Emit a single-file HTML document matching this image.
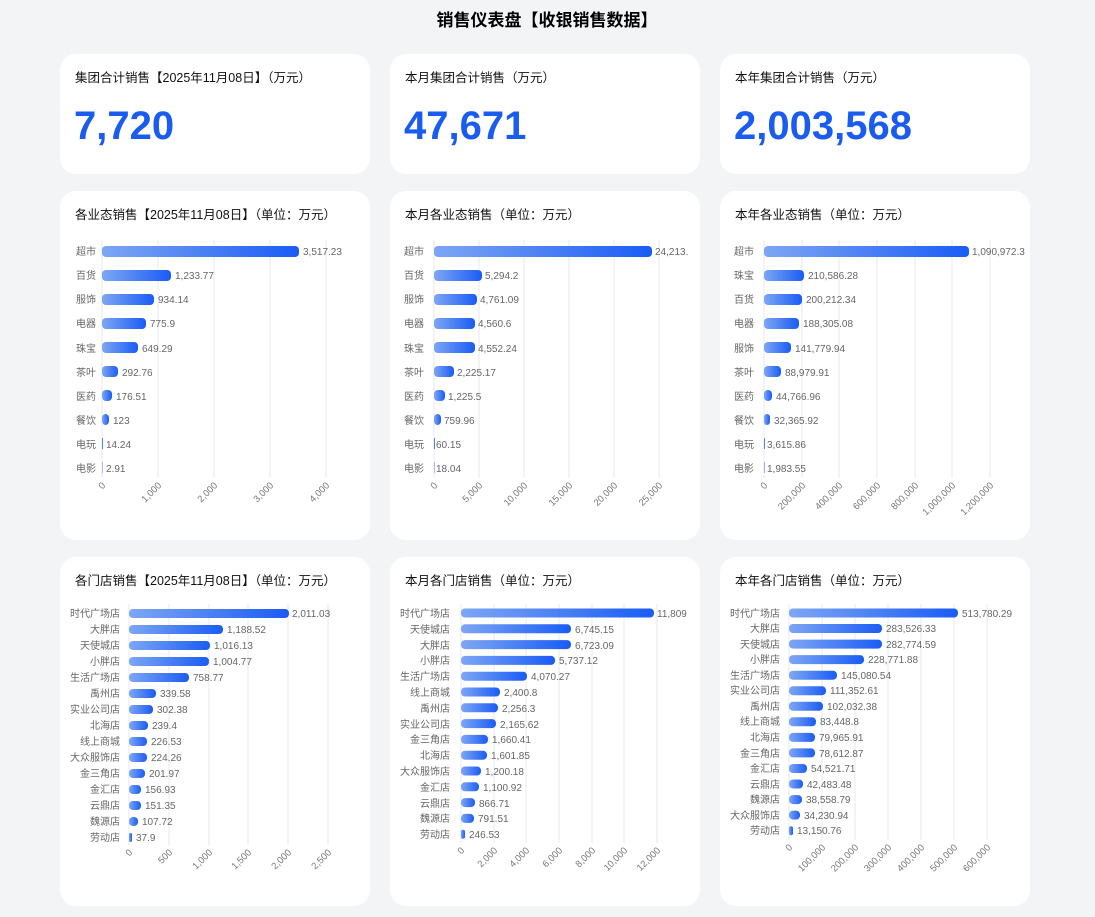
<!DOCTYPE html><html><head><meta charset="utf-8"><style>
body{margin:0;width:1095px;height:917px;background:#f3f4f6;font-family:"Liberation Sans","Noto Sans CJK SC",sans-serif;overflow:hidden;position:relative}
.c{position:absolute;background:#fff;border-radius:16px;width:310px}
svg{position:absolute;left:0;top:0}
.t{font-size:12.5px;fill:#111}.l{font-size:10px;fill:#666}.v{font-size:10px;fill:#666}.k{font-size:9.5px;fill:#777}
.n{font-size:40px;font-weight:bold;fill:#1a5cf0}
.g{stroke:#e8eaf0;stroke-width:1}
</style></head><body>
<div class="c" style="left:60px;top:54px;height:120px"></div><div class="c" style="left:390px;top:54px;height:120px"></div><div class="c" style="left:720px;top:54px;height:120px"></div>
<div class="c" style="left:60px;top:191px;height:349px"></div><div class="c" style="left:390px;top:191px;height:349px"></div><div class="c" style="left:720px;top:191px;height:349px"></div>
<div class="c" style="left:60px;top:557px;height:349px"></div><div class="c" style="left:390px;top:557px;height:349px"></div><div class="c" style="left:720px;top:557px;height:349px"></div>
<svg width="1095" height="917">
<defs><linearGradient id="b" x1="0" x2="1" y1="0" y2="0"><stop offset="0" stop-color="#7da6f4"/><stop offset="1" stop-color="#1a5cf5"/></linearGradient></defs>
<text x="547" y="26" text-anchor="middle" style="font-size:17px;font-weight:bold">销售仪表盘【收银销售数据】</text>
<text class="t" x="75" y="82">集团合计销售【2025年11月08日】（万元）</text><text class="n" x="74" y="139">7,720</text>
<text class="t" x="405" y="82">本月集团合计销售（万元）</text><text class="n" x="404" y="139">47,671</text>
<text class="t" x="735" y="82">本年集团合计销售（万元）</text><text class="n" x="734" y="139">2,003,568</text>
<text class="t" x="75" y="219">各业态销售【2025年11月08日】（单位：万元）</text>
<text class="t" x="405" y="219">本月各业态销售（单位：万元）</text>
<text class="t" x="735" y="219">本年各业态销售（单位：万元）</text>
<text class="t" x="75" y="585">各门店销售【2025年11月08日】（单位：万元）</text>
<text class="t" x="405" y="585">本月各门店销售（单位：万元）</text>
<text class="t" x="735" y="585">本年各门店销售（单位：万元）</text>
<!-- chart1 -->
<g class="g"><line x1="102" y1="240" x2="102" y2="478"/><line x1="158" y1="240" x2="158" y2="478"/><line x1="214" y1="240" x2="214" y2="478"/><line x1="270" y1="240" x2="270" y2="478"/><line x1="326" y1="240" x2="326" y2="478"/></g>
<g fill="url(#b)"><rect x="102" y="246" width="197" height="11" rx="4"/><rect x="102" y="270" width="69" height="11" rx="4"/><rect x="102" y="294" width="52" height="11" rx="4"/><rect x="102" y="318" width="44" height="11" rx="4"/><rect x="102" y="342" width="36" height="11" rx="4"/><rect x="102" y="366" width="16" height="11" rx="4"/><rect x="102" y="390" width="10" height="11" rx="4"/><rect x="102" y="414" width="7" height="11" rx="4"/><rect x="102" y="438" width="1" height="11"/><rect x="102" y="462" width="0.5" height="11"/></g>
<g class="l" text-anchor="end"><text x="96" y="255">超市</text><text x="96" y="279">百货</text><text x="96" y="303">服饰</text><text x="96" y="327">电器</text><text x="96" y="352">珠宝</text><text x="96" y="376">茶叶</text><text x="96" y="400">医药</text><text x="96" y="424">餐饮</text><text x="96" y="448">电玩</text><text x="96" y="472">电影</text></g>
<g class="v"><text x="303" y="255">3,517.23</text><text x="175" y="279">1,233.77</text><text x="158" y="303">934.14</text><text x="150" y="327">775.9</text><text x="142" y="352">649.29</text><text x="122" y="376">292.76</text><text x="116" y="400">176.51</text><text x="113" y="424">123</text><text x="106" y="448">14.24</text><text x="106" y="472">2.91</text></g>
<g class="k" text-anchor="end"><text x="106" y="486" transform="rotate(-45 106 486)">0</text><text x="162" y="486" transform="rotate(-45 162 486)">1,000</text><text x="218" y="486" transform="rotate(-45 218 486)">2,000</text><text x="274" y="486" transform="rotate(-45 274 486)">3,000</text><text x="330" y="486" transform="rotate(-45 330 486)">4,000</text></g>
<!-- chart2 -->
<g class="g"><line x1="434" y1="240" x2="434" y2="478"/><line x1="479" y1="240" x2="479" y2="478"/><line x1="524" y1="240" x2="524" y2="478"/><line x1="569" y1="240" x2="569" y2="478"/><line x1="614" y1="240" x2="614" y2="478"/><line x1="659" y1="240" x2="659" y2="478"/></g>
<g fill="url(#b)"><rect x="434" y="246" width="218" height="11" rx="4"/><rect x="434" y="270" width="48" height="11" rx="4"/><rect x="434" y="294" width="43" height="11" rx="4"/><rect x="434" y="318" width="41" height="11" rx="4"/><rect x="434" y="342" width="41" height="11" rx="4"/><rect x="434" y="366" width="20" height="11" rx="4"/><rect x="434" y="390" width="11" height="11" rx="4"/><rect x="434" y="414" width="7" height="11" rx="4"/><rect x="434" y="438" width="1" height="11"/><rect x="434" y="462" width="0.5" height="11"/></g>
<g class="l" text-anchor="end"><text x="424" y="255">超市</text><text x="424" y="279">百货</text><text x="424" y="303">服饰</text><text x="424" y="327">电器</text><text x="424" y="352">珠宝</text><text x="424" y="376">茶叶</text><text x="424" y="400">医药</text><text x="424" y="424">餐饮</text><text x="424" y="448">电玩</text><text x="424" y="472">电影</text></g>
<g class="v"><text x="655" y="255">24,213.</text><text x="485" y="279">5,294.2</text><text x="480" y="303">4,761.09</text><text x="478" y="327">4,560.6</text><text x="478" y="352">4,552.24</text><text x="457" y="376">2,225.17</text><text x="448" y="400">1,225.5</text><text x="444" y="424">759.96</text><text x="436" y="448">60.15</text><text x="436" y="472">18.04</text></g>
<g class="k" text-anchor="end"><text x="438" y="486" transform="rotate(-45 438 486)">0</text><text x="483" y="486" transform="rotate(-45 483 486)">5,000</text><text x="528" y="486" transform="rotate(-45 528 486)">10,000</text><text x="573" y="486" transform="rotate(-45 573 486)">15,000</text><text x="618" y="486" transform="rotate(-45 618 486)">20,000</text><text x="663" y="486" transform="rotate(-45 663 486)">25,000</text></g>
<!-- chart3 -->
<g class="g"><line x1="764" y1="240" x2="764" y2="478"/><line x1="802" y1="240" x2="802" y2="478"/><line x1="839" y1="240" x2="839" y2="478"/><line x1="877" y1="240" x2="877" y2="478"/><line x1="915" y1="240" x2="915" y2="478"/><line x1="952" y1="240" x2="952" y2="478"/><line x1="990" y1="240" x2="990" y2="478"/></g>
<g fill="url(#b)"><rect x="764" y="246" width="205" height="11" rx="4"/><rect x="764" y="270" width="40" height="11" rx="4"/><rect x="764" y="294" width="38" height="11" rx="4"/><rect x="764" y="318" width="35" height="11" rx="4"/><rect x="764" y="342" width="27" height="11" rx="4"/><rect x="764" y="366" width="17" height="11" rx="4"/><rect x="764" y="390" width="8" height="11" rx="4"/><rect x="764" y="414" width="6" height="11" rx="3"/><rect x="764" y="438" width="1" height="11"/><rect x="764" y="462" width="0.6" height="11"/></g>
<g class="l" text-anchor="end"><text x="754" y="255">超市</text><text x="754" y="279">珠宝</text><text x="754" y="303">百货</text><text x="754" y="327">电器</text><text x="754" y="352">服饰</text><text x="754" y="376">茶叶</text><text x="754" y="400">医药</text><text x="754" y="424">餐饮</text><text x="754" y="448">电玩</text><text x="754" y="472">电影</text></g>
<g class="v"><text x="972" y="255">1,090,972.3</text><text x="808" y="279">210,586.28</text><text x="806" y="303">200,212.34</text><text x="803" y="327">188,305.08</text><text x="795" y="352">141,779.94</text><text x="785" y="376">88,979.91</text><text x="776" y="400">44,766.96</text><text x="774" y="424">32,365.92</text><text x="767" y="448">3,615.86</text><text x="767" y="472">1,983.55</text></g>
<g class="k" text-anchor="end"><text x="768" y="486" transform="rotate(-45 768 486)">0</text><text x="806" y="486" transform="rotate(-45 806 486)">200,000</text><text x="843" y="486" transform="rotate(-45 843 486)">400,000</text><text x="881" y="486" transform="rotate(-45 881 486)">600,000</text><text x="919" y="486" transform="rotate(-45 919 486)">800,000</text><text x="956" y="486" transform="rotate(-45 956 486)">1,000,000</text><text x="994" y="486" transform="rotate(-45 994 486)">1,200,000</text></g>
<!-- chart4 -->
<g class="g"><line x1="129" y1="604" x2="129" y2="845"/><line x1="169" y1="604" x2="169" y2="845"/><line x1="209" y1="604" x2="209" y2="845"/><line x1="248" y1="604" x2="248" y2="845"/><line x1="288" y1="604" x2="288" y2="845"/><line x1="328" y1="604" x2="328" y2="845"/></g>
<g fill="url(#b)"><rect x="129" y="609" width="160" height="9" rx="4"/><rect x="129" y="625" width="94" height="9" rx="4"/><rect x="129" y="641" width="81" height="9" rx="4"/><rect x="129" y="657" width="80" height="9" rx="4"/><rect x="129" y="673" width="60" height="9" rx="4"/><rect x="129" y="689" width="27" height="9" rx="4"/><rect x="129" y="705" width="24" height="9" rx="4"/><rect x="129" y="721" width="19" height="9" rx="4"/><rect x="129" y="737" width="18" height="9" rx="4"/><rect x="129" y="753" width="18" height="9" rx="4"/><rect x="129" y="769" width="16" height="9" rx="4"/><rect x="129" y="785" width="12" height="9" rx="4"/><rect x="129" y="801" width="12" height="9" rx="4"/><rect x="129" y="817" width="9" height="9" rx="4"/><rect x="129" y="833" width="3" height="9" rx="1.5"/></g>
<g class="l" text-anchor="end"><text x="120" y="617">时代广场店</text><text x="120" y="633">大胖店</text><text x="120" y="649">天使城店</text><text x="120" y="665">小胖店</text><text x="120" y="681">生活广场店</text><text x="120" y="697">禹州店</text><text x="120" y="713">实业公司店</text><text x="120" y="729">北海店</text><text x="120" y="745">线上商城</text><text x="120" y="761">大众服饰店</text><text x="120" y="777">金三角店</text><text x="120" y="793">金汇店</text><text x="120" y="809">云鼎店</text><text x="120" y="825">魏源店</text><text x="120" y="841">劳动店</text></g>
<g class="v"><text x="292" y="617">2,011.03</text><text x="227" y="633">1,188.52</text><text x="214" y="649">1,016.13</text><text x="213" y="665">1,004.77</text><text x="193" y="681">758.77</text><text x="160" y="697">339.58</text><text x="157" y="713">302.38</text><text x="152" y="729">239.4</text><text x="151" y="745">226.53</text><text x="151" y="761">224.26</text><text x="149" y="777">201.97</text><text x="145" y="793">156.93</text><text x="145" y="809">151.35</text><text x="142" y="825">107.72</text><text x="136" y="841">37.9</text></g>
<g class="k" text-anchor="end"><text x="133" y="853" transform="rotate(-45 133 853)">0</text><text x="173" y="853" transform="rotate(-45 173 853)">500</text><text x="213" y="853" transform="rotate(-45 213 853)">1,000</text><text x="252" y="853" transform="rotate(-45 252 853)">1,500</text><text x="292" y="853" transform="rotate(-45 292 853)">2,000</text><text x="332" y="853" transform="rotate(-45 332 853)">2,500</text></g>
<!-- chart5 -->
<g class="g"><line x1="461" y1="604" x2="461" y2="843"/><line x1="494" y1="604" x2="494" y2="843"/><line x1="526" y1="604" x2="526" y2="843"/><line x1="559" y1="604" x2="559" y2="843"/><line x1="592" y1="604" x2="592" y2="843"/><line x1="624" y1="604" x2="624" y2="843"/><line x1="657" y1="604" x2="657" y2="843"/></g>
<g fill="url(#b)"><rect x="461" y="608.5" width="193" height="9" rx="4"/><rect x="461" y="624.3" width="110" height="9" rx="4"/><rect x="461" y="640.1" width="110" height="9" rx="4"/><rect x="461" y="655.9" width="94" height="9" rx="4"/><rect x="461" y="671.7" width="66" height="9" rx="4"/><rect x="461" y="687.5" width="39" height="9" rx="4"/><rect x="461" y="703.3" width="37" height="9" rx="4"/><rect x="461" y="719.1" width="35" height="9" rx="4"/><rect x="461" y="734.9" width="27" height="9" rx="4"/><rect x="461" y="750.7" width="26" height="9" rx="4"/><rect x="461" y="766.5" width="20" height="9" rx="4"/><rect x="461" y="782.3" width="18" height="9" rx="4"/><rect x="461" y="798.1" width="14" height="9" rx="4"/><rect x="461" y="813.9" width="13" height="9" rx="4"/><rect x="461" y="829.7" width="4" height="9" rx="2"/></g>
<g class="l" text-anchor="end"><text x="450" y="617">时代广场店</text><text x="450" y="633">天使城店</text><text x="450" y="649">大胖店</text><text x="450" y="664">小胖店</text><text x="450" y="680">生活广场店</text><text x="450" y="696">线上商城</text><text x="450" y="712">禹州店</text><text x="450" y="728">实业公司店</text><text x="450" y="743">金三角店</text><text x="450" y="759">北海店</text><text x="450" y="775">大众服饰店</text><text x="450" y="791">金汇店</text><text x="450" y="807">云鼎店</text><text x="450" y="822">魏源店</text><text x="450" y="838">劳动店</text></g>
<g class="v"><text x="657" y="617">11,809</text><text x="575" y="633">6,745.15</text><text x="575" y="649">6,723.09</text><text x="559" y="664">5,737.12</text><text x="531" y="680">4,070.27</text><text x="504" y="696">2,400.8</text><text x="502" y="712">2,256.3</text><text x="500" y="728">2,165.62</text><text x="492" y="743">1,660.41</text><text x="491" y="759">1,601.85</text><text x="485" y="775">1,200.18</text><text x="483" y="791">1,100.92</text><text x="479" y="807">866.71</text><text x="478" y="822">791.51</text><text x="469" y="838">246.53</text></g>
<g class="k" text-anchor="end"><text x="465" y="851" transform="rotate(-45 465 851)">0</text><text x="498" y="851" transform="rotate(-45 498 851)">2,000</text><text x="530" y="851" transform="rotate(-45 530 851)">4,000</text><text x="563" y="851" transform="rotate(-45 563 851)">6,000</text><text x="596" y="851" transform="rotate(-45 596 851)">8,000</text><text x="628" y="851" transform="rotate(-45 628 851)">10,000</text><text x="661" y="851" transform="rotate(-45 661 851)">12,000</text></g>
<!-- chart6 -->
<g class="g"><line x1="789" y1="604" x2="789" y2="840"/><line x1="822" y1="604" x2="822" y2="840"/><line x1="855" y1="604" x2="855" y2="840"/><line x1="888" y1="604" x2="888" y2="840"/><line x1="921" y1="604" x2="921" y2="840"/><line x1="954" y1="604" x2="954" y2="840"/><line x1="987" y1="604" x2="987" y2="840"/></g>
<g fill="url(#b)"><rect x="789" y="608.5" width="169" height="9" rx="4"/><rect x="789" y="624" width="93" height="9" rx="4"/><rect x="789" y="639.6" width="93" height="9" rx="4"/><rect x="789" y="655.1" width="75" height="9" rx="4"/><rect x="789" y="670.7" width="48" height="9" rx="4"/><rect x="789" y="686.2" width="37" height="9" rx="4"/><rect x="789" y="701.8" width="34" height="9" rx="4"/><rect x="789" y="717.3" width="27" height="9" rx="4"/><rect x="789" y="732.9" width="26" height="9" rx="4"/><rect x="789" y="748.4" width="26" height="9" rx="4"/><rect x="789" y="764" width="18" height="9" rx="4"/><rect x="789" y="779.5" width="14" height="9" rx="4"/><rect x="789" y="795.1" width="13" height="9" rx="4"/><rect x="789" y="810.6" width="11" height="9" rx="4"/><rect x="789" y="826.2" width="4" height="9" rx="2"/></g>
<g class="l" text-anchor="end"><text x="780" y="617">时代广场店</text><text x="780" y="632">大胖店</text><text x="780" y="648">天使城店</text><text x="780" y="663">小胖店</text><text x="780" y="679">生活广场店</text><text x="780" y="694">实业公司店</text><text x="780" y="710">禹州店</text><text x="780" y="725">线上商城</text><text x="780" y="741">北海店</text><text x="780" y="757">金三角店</text><text x="780" y="772">金汇店</text><text x="780" y="788">云鼎店</text><text x="780" y="803">魏源店</text><text x="780" y="819">大众服饰店</text><text x="780" y="834">劳动店</text></g>
<g class="v"><text x="962" y="617">513,780.29</text><text x="886" y="632">283,526.33</text><text x="886" y="648">282,774.59</text><text x="868" y="663">228,771.88</text><text x="841" y="679">145,080.54</text><text x="830" y="694">111,352.61</text><text x="827" y="710">102,032.38</text><text x="820" y="725">83,448.8</text><text x="819" y="741">79,965.91</text><text x="819" y="757">78,612.87</text><text x="811" y="772">54,521.71</text><text x="807" y="788">42,483.48</text><text x="806" y="803">38,558.79</text><text x="804" y="819">34,230.94</text><text x="797" y="834">13,150.76</text></g>
<g class="k" text-anchor="end"><text x="793" y="848" transform="rotate(-45 793 848)">0</text><text x="826" y="848" transform="rotate(-45 826 848)">100,000</text><text x="859" y="848" transform="rotate(-45 859 848)">200,000</text><text x="892" y="848" transform="rotate(-45 892 848)">300,000</text><text x="925" y="848" transform="rotate(-45 925 848)">400,000</text><text x="958" y="848" transform="rotate(-45 958 848)">500,000</text><text x="991" y="848" transform="rotate(-45 991 848)">600,000</text></g>
</svg>
</body></html>
